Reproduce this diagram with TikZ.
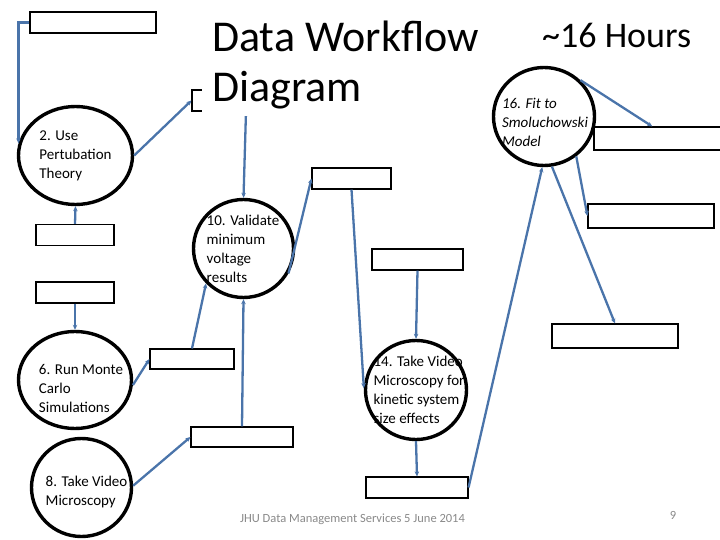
\documentclass[tikz,border=0pt]{standalone}
\usepackage{fontspec}
\setmainfont{Carlito}
\usetikzlibrary{arrows.meta, calc, shapes.geometric}
\definecolor{flowcolor}{RGB}{74,116,170}
\definecolor{footcolor}{RGB}{137,137,137}

\begin{document}
\begin{tikzpicture}[
    x=1pt, y=-1pt,
    process/.style={draw, ellipse, line width=3.4pt, inner sep=0pt, fill=white},
    proctext/.style={align=left, inner sep=0pt, font=\fontsize{15}{19}\selectfont},
    store/.style={draw, line width=1.1pt, inner sep=0pt, fill=white},
    flow/.style={draw=flowcolor, line width=2.3pt, -{Stealth[length=5pt, width=4.5pt]}},
    footer/.style={text=footcolor, inner sep=0pt, font=\fontsize{12.5}{14}\selectfont},
]
    \useasboundingbox (0,0) rectangle (720,540);

    % Processes
    \node[process, minimum width=114pt, minimum height=98pt] (p2) at (75.5,155.5) {};
    \node[process, minimum width=113pt, minimum height=97pt] (p6) at (75,380) {};
    \node[process, minimum width=100pt, minimum height=98pt] (p8) at (81.5,487.5) {};
    \node[process, minimum width=100pt, minimum height=98pt] (p10) at (243.5,248.5) {};
    \node[process, minimum width=101pt, minimum height=99pt] (p14) at (416,390) {};
    \node[process, minimum width=101pt, minimum height=98pt] (p16) at (544,116.5) {};

    % Data stores
    \node[store, minimum width=126pt, minimum height=21pt] (b1) at (93,22.5) {};
    \node[store, minimum width=108pt, minimum height=21pt] (b2) at (246,100.5) {};
    \node[store, minimum width=78pt, minimum height=21pt] (b3) at (75,235) {};
    \node[store, minimum width=78pt, minimum height=21pt] (b4) at (75,292.5) {};
    \node[store, minimum width=84pt, minimum height=20pt] (b5) at (192,359) {};
    \node[store, minimum width=102pt, minimum height=20pt] (b6) at (242,437) {};
    \node[store, minimum width=79pt, minimum height=21pt] (b7) at (351.5,178.5) {};
    \node[store, minimum width=91pt, minimum height=21pt] (b8) at (417.5,259.5) {};
    \node[store, minimum width=102pt, minimum height=21pt] (b9) at (417,487.5) {};
    \node[store, minimum width=126pt, minimum height=24pt] (b10) at (651,216) {};
    \node[store, minimum width=126pt, minimum height=24pt] (b11) at (615,336) {};
    \node[store, minimum width=146pt, minimum height=23pt] (b12) at (667,138.5) {};

    % Flows
    \draw[flow] (b1.west) -| (p2.168);
    \draw[flow] (p2.east) -- (b2.west);
    \draw[flow] (b3.north) -- (p2.south);
    \draw[flow] (b4.south) -- (p6.north);
    \draw[flow] (p6.-5) -- (b5.west);
    \draw[flow] (p8.2) -- (b6.west);
    \draw[flow] (b2.south) -- (p10.north);
    \draw[flow] (b5.north) -- (p10.223);
    \draw[flow] (b6.north) -- (p10.south);
    \draw[flow] (p10.-29) -- (b7.west);
    \draw[flow] (b7.south) -- (p14.178);
    \draw[flow] (b8.south) -- (p14.north);
    \draw[flow] (p14.south) -- (b9.north);
    \draw[flow] (b9.east) -- (p16.-92);
    \draw[flow] (p16.-81) -- (b11.north);
    \draw[flow] (p16.-51) -- (b10.west);
    \draw[flow] (p16.45) -- ($(b12.north west)!0.4!(b12.north east)$);

    % Process labels
    \node[proctext] (t2) at (75.5,156) {2. Use\\Pertubation\\Theory};
    \node[proctext] (t6) at (81,388) {6. Run Monte\\Carlo\\Simulations};
    \node[proctext] (t8) at (86.5,491.5) {8. Take Video\\Microscopy};
    \node[proctext] (t10) at (243,249) {10. Validate\\minimum\\voltage\\results};
    \node[proctext] (t14) at (419,390) {14. Take Video\\Microscopy for\\kinetic system\\ size effects};
    \node[proctext, font=\fontsize{15}{19}\selectfont\itshape] (t16) at (545,122) {16. Fit to\\Smoluchowski\\Model};

    % Title
    \node[fill=white, inner sep=0pt, anchor=north west, minimum width=280pt, minimum height=110pt] (titlemask) at (202,6) {};
    \node[anchor=base west, align=left, inner sep=0pt, font=\fontsize{44}{50}\selectfont] (title) at (212,102) {Data Workflow\\Diagram};
    \node[anchor=base west, inner sep=0pt, font=\fontsize{36}{40}\selectfont] (hours) at (542,48) {\textasciitilde 16 Hours};

    % Footer
    \node[footer, anchor=base] (foot) at (352.5,522) {JHU Data Management Services 5 June 2014};
    \node[footer, anchor=base] (page) at (673,519) {9};
\end{tikzpicture}
\end{document}
